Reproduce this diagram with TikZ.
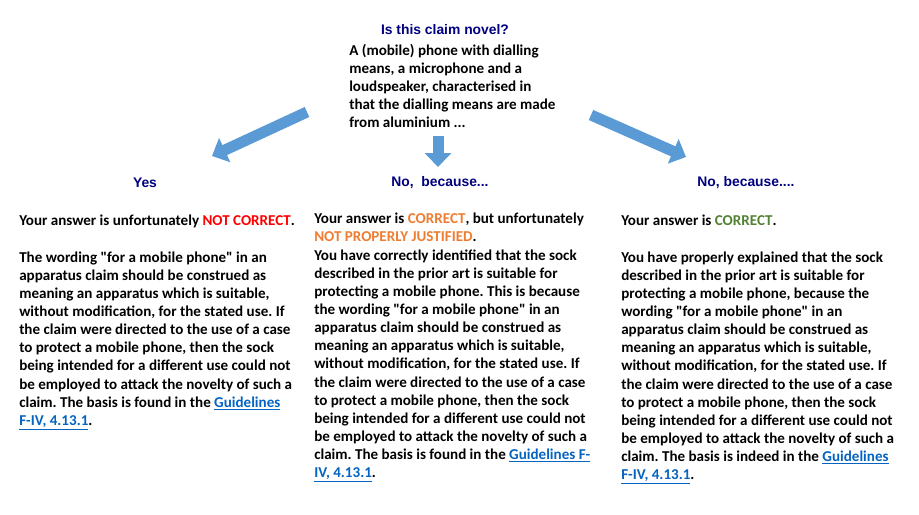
\documentclass[tikz,border=0pt]{standalone}
\usepackage{fontspec}
\setmainfont{Carlito}[Ligatures=TeXReset]
\newfontfamily\headfont{Liberation Sans}
\usetikzlibrary{arrows.meta}
\definecolor{headblue}{RGB}{0,0,128}
\definecolor{arrowblue}{RGB}{91,155,213}
\definecolor{wrongred}{RGB}{255,0,0}
\definecolor{halforange}{RGB}{237,125,49}
\definecolor{rightgreen}{RGB}{84,130,53}
\definecolor{linkblue}{RGB}{5,99,193}
\newcommand{\guide}[1]{\textcolor{linkblue}{\underline{#1}}}
\frenchspacing

\begin{document}
\begin{tikzpicture}[x=0.75pt,y=-0.75pt,
    head/.style={font=\headfont\bfseries\fontsize{10.4}{12}\selectfont,text=headblue,inner sep=0pt},
    answer/.style={font=\bfseries\fontsize{11.3}{13.6}\selectfont,align=left,anchor=north west,inner sep=0pt},
    bigarrow/.style={arrowblue,line width=8.25pt,-{Triangle[width=19.5pt,length=10.5pt]}}]
    \useasboundingbox (0,0) rectangle (919,514);
    % question and claim
    \node[head] (q) at (445,30) {Is this claim novel?};
    \node[answer] (claim) at (349,44) {A (mobile) phone with dialling\\
        means, a microphone and a\\
        loudspeaker, characterised in\\
        that the dialling means are made\\
        from aluminium ...};
    % the three answers
    \node[head] (yes) at (145,183) {Yes};
    \node[head] (nob) at (440,183) {No,\ \ because...};
    \node[head] (noc) at (746,183) {No, because....};
    \coordinate (lt) at (307,112);
    \coordinate (lh) at (212,156);
    \coordinate (mt) at (438,136);
    \coordinate (mh) at (438,167);
    \coordinate (rt) at (591,115);
    \coordinate (rh) at (686,157);
    \draw[bigarrow] (lt)--(lh);
    \draw[bigarrow] (mt)--(mh);
    \draw[bigarrow] (rt)--(rh);
    % feedback texts
    \node[answer] (ayes) at (19,215) {Your answer is unfortunately \textcolor{wrongred}{NOT CORRECT}.\\[13.6pt]
        The wording "for a mobile phone" in an\\
        apparatus claim should be construed as\\
        meaning an apparatus which is suitable,\\
        without modification, for the stated use. If\\
        the claim were directed to the use of a case\\
        to protect a mobile phone, then the sock\\
        being intended for a different use could not\\
        be employed to attack the novelty of such a\\
        claim. The basis is found in the \guide{Guidelines}\\
        \guide{F-IV, 4.13.1}.};
    \node[answer] (anob) at (314,213) {Your answer is \textcolor{halforange}{CORRECT}, but unfortunately\\
        \textcolor{halforange}{NOT PROPERLY JUSTIFIED}.\\
        You have correctly identified that the sock\\
        described in the prior art is suitable for\\
        protecting a mobile phone. This is because\\
        the wording "for a mobile phone" in an\\
        apparatus claim should be construed as\\
        meaning an apparatus which is suitable,\\
        without modification, for the stated use. If\\
        the claim were directed to the use of a case\\
        to protect a mobile phone, then the sock\\
        being intended for a different use could not\\
        be employed to attack the novelty of such a\\
        claim. The basis is found in the \guide{Guidelines F-}\\
        \guide{IV, 4.13.1}.};
    \node[answer] (anoc) at (621,215) {Your answer is \textcolor{rightgreen}{CORRECT}.\\[13.6pt]
        You have properly explained that the sock\\
        described in the prior art is suitable for\\
        protecting a mobile phone, because the\\
        wording "for a mobile phone" in an\\
        apparatus claim should be construed as\\
        meaning an apparatus which is suitable,\\
        without modification, for the stated use. If\\
        the claim were directed to the use of a case\\
        to protect a mobile phone, then the sock\\
        being intended for a different use could not\\
        be employed to attack the novelty of such a\\
        claim. The basis is indeed in the \guide{Guidelines}\\
        \guide{F-IV, 4.13.1}.};
\end{tikzpicture}
\end{document}
